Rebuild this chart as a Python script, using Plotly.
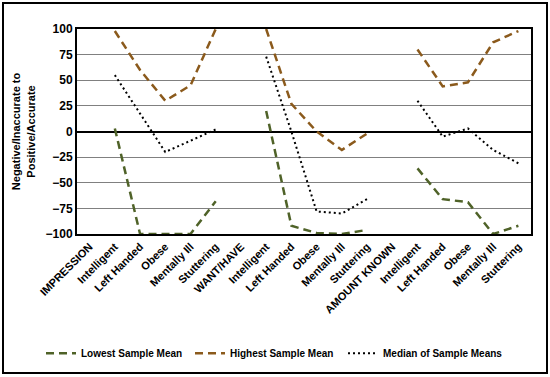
import plotly.graph_objects as go

categories = ["IMPRESSION", "Intelligent", "Left Handed", "Obese", "Mentally Ill", "Stuttering",
              "WANT/HAVE", "Intelligent", "Left Handed", "Obese", "Mentally Ill", "Stuttering",
              "AMOUNT KNOWN", "Intelligent", "Left Handed", "Obese", "Mentally Ill", "Stuttering"]

lowest = [None, 3, -100, -100, -100, -68,
          None, 20, -92, -99, -100, -96,
          None, -36, -66, -69, -100, -92]
highest = [None, 98, 60, 30, 45, 100,
           None, 100, 27, 0, -18, -2,
           None, 80, 44, 48, 87, 98]
median = [None, 55, 17, -20, -9, 2,
          None, 73, 0, -78, -80, -66,
          None, 30, -5, 3, -18, -31]

yticks = [100, 75, 50, 25, 0, -25, -50, -75, -100]

xs = list(range(len(categories)))
font_family = "Liberation Sans, Arial, sans-serif"

fig = go.Figure()
fig.add_trace(go.Scatter(x=xs, y=lowest, mode="lines", name="Lowest Sample Mean",
                         line=dict(color="#4F6228", width=2.5, dash="8px,5px"),
                         connectgaps=False, legend="legend"))
fig.add_trace(go.Scatter(x=xs, y=highest, mode="lines", name="Highest Sample Mean",
                         line=dict(color="#8B5A1C", width=2.5, dash="8px,5px"),
                         connectgaps=False, legend="legend2"))
fig.add_trace(go.Scatter(x=xs, y=median, mode="lines", name="Median of Sample Means",
                         line=dict(color="#000000", width=2, dash="2px,3px"),
                         connectgaps=False, legend="legend3"))

def leg(xpx):
    return dict(orientation="h", xref="container", yref="container",
                x=xpx / 550, xanchor="left", y=0.063, yanchor="middle",
                font=dict(size=10, family=font_family, weight="bold"),
                itemwidth=30, bgcolor="rgba(0,0,0,0)")

fig.update_layout(
    width=550, height=377,
    margin=dict(l=77, r=19, t=29, b=143, autoexpand=False),
    paper_bgcolor="white", plot_bgcolor="white",
    font=dict(family=font_family, size=11, color="black", weight="bold"),
    showlegend=True,
    legend=leg(41), legend2=leg(190), legend3=leg(343),
    xaxis=dict(range=[-0.5, len(categories) - 0.5], tickmode="array", tickvals=xs,
               ticktext=categories, tickangle=-45, showgrid=False, zeroline=False,
               showline=True, linecolor="black", linewidth=2, mirror=True, ticks="",
               automargin=False,
               tickfont=dict(size=11, family=font_family, weight="bold")),
    yaxis=dict(range=[-100, 100], tickmode="array", tickvals=yticks,
               showgrid=True, gridcolor="#808080", gridwidth=1,
               zeroline=True, zerolinecolor="black", zerolinewidth=2,
               showline=True, linecolor="black", linewidth=2, mirror=True, ticks="",
               automargin=False,
               tickfont=dict(size=12, family=font_family, weight="bold"),
               title=dict(text="Negative/Inaccurate to<br>Positive/Accurate",
                          font=dict(size=11, family=font_family, weight="bold"), standoff=8)),
)

fig.add_shape(type="rect", xref="paper", yref="paper",
              x0=(3 - 77) / 454, x1=(547 - 77) / 454,
              y0=(234 - 373) / 205, y1=(234 - 3) / 205,
              line=dict(color="black", width=2), fillcolor="rgba(0,0,0,0)", layer="below")

fig.write_html("out.html", post_script="document.body.style.margin='0';",
               config={"displayModeBar": False})
